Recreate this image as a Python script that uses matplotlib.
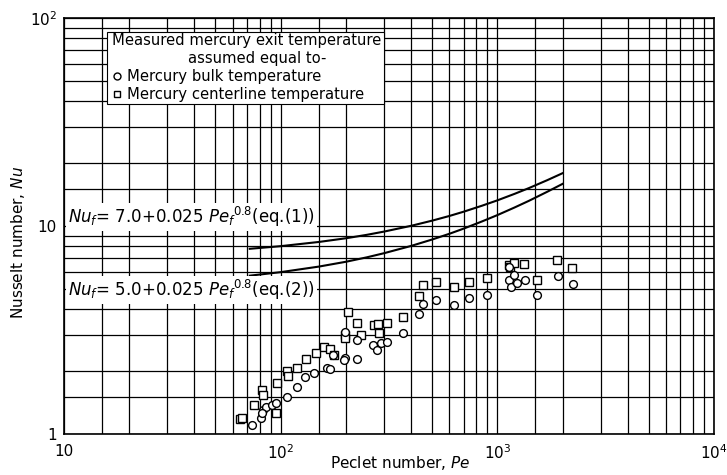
import matplotlib
matplotlib.use("Agg")
import matplotlib.pyplot as plt
from matplotlib.ticker import FixedLocator, NullFormatter
from matplotlib.patches import Rectangle
from matplotlib.lines import Line2D

plt.rcParams['font.family'] = ['DejaVu Sans']
plt.rcParams['mathtext.fontset'] = 'dejavusans'

# ---- data ----
pe_center = [65, 66, 75, 82, 83, 95, 96, 107, 108, 119, 131, 145, 159, 169, 176,
             204, 199, 199, 225, 234, 271, 281, 285, 310, 368, 433, 453, 520, 633,
             741, 894, 1131, 1150, 1200, 1324, 1521, 1888, 2221]
nu_center = [1.18, 1.19, 1.38, 1.63, 1.54, 1.26, 1.75, 2.01, 1.89, 2.07, 2.29, 2.46, 2.63,
             2.56, 2.40, 3.87, 2.99, 2.88, 3.43, 2.99, 3.34, 3.38, 3.07, 3.41, 3.66, 4.61,
             5.20, 5.40, 5.11, 5.40, 5.60, 6.49, 6.35, 6.62, 6.57, 5.50, 6.86, 6.26]

pe_bulk = [74, 81, 83, 86, 82, 91, 95, 107, 119, 130, 143, 163, 169, 174, 199, 199, 197,
           225, 225, 267, 277, 291, 310, 368, 433, 453, 520, 633, 741, 894, 1131, 1134,
           1200, 1153, 1228, 1345, 1521, 1914, 2244]
nu_bulk = [1.10, 1.19, 1.30, 1.35, 1.26, 1.38, 1.41, 1.51, 1.69, 1.87, 1.96, 2.07, 2.05,
           2.40, 3.10, 2.31, 2.27, 2.83, 2.29, 2.68, 2.53, 2.73, 2.78, 3.05, 3.76, 4.22,
           4.41, 4.17, 4.52, 4.66, 5.50, 6.37, 5.81, 5.11, 5.30, 5.50, 4.66, 5.75, 5.26]

pe_curve = [72, 100, 150, 200, 250, 300, 400, 500, 600, 700, 850, 1000, 1200, 1400, 1700, 2000]
nu_eq1 = [7.77, 8.00, 8.38, 8.73, 9.07, 9.40, 10.02, 10.61, 11.17, 11.72, 12.52, 13.28,
          14.27, 15.22, 16.61, 17.94]
nu_eq2 = [5.77, 6.00, 6.38, 6.73, 7.07, 7.40, 8.02, 8.61, 9.17, 9.72, 10.52, 11.28,
          12.27, 13.22, 14.61, 15.94]

x_major = [10, 100, 1000, 10000]
x_major_labels = ['10', r'$10^{2}$', r'$10^{3}$', r'$10^{4}$']
y_major = [1, 10, 100]
y_major_labels = ['1', '10', r'$10^{2}$']
minor_mult = [1.5, 2, 3, 4, 5, 6, 7, 8, 9]

W, H = 727, 475
fig = plt.figure(figsize=(W / 100, H / 100), dpi=100)
ax = fig.add_axes([64 / W, 41 / H, 650 / W, 416 / H])
ax.set_xscale('log')
ax.set_yscale('log')
ax.set_xlim(10, 10000)
ax.set_ylim(1, 100)

ax.xaxis.set_major_locator(FixedLocator(x_major))
ax.set_xticklabels(x_major_labels)
ax.yaxis.set_major_locator(FixedLocator(y_major))
ax.set_yticklabels(y_major_labels)
ax.xaxis.set_minor_locator(FixedLocator([m * 10 ** k for k in (1, 2, 3) for m in minor_mult]))
ax.yaxis.set_minor_locator(FixedLocator([m * 10 ** k for k in (0, 1) for m in minor_mult]))
ax.xaxis.set_minor_formatter(NullFormatter())
ax.yaxis.set_minor_formatter(NullFormatter())
ax.tick_params(which='both', length=0, labelsize=11)
ax.tick_params(axis='x', pad=7)
ax.tick_params(axis='y', pad=5)
ax.grid(which='both', color='black', linewidth=0.9)
ax.set_axisbelow(True)
for s in ax.spines.values():
    s.set_linewidth(1.2)

ax.plot(pe_curve, nu_eq1, color='black', lw=1.5, zorder=3)
ax.plot(pe_curve, nu_eq2, color='black', lw=1.5, zorder=3)

ax.plot(pe_center, nu_center, linestyle='none', marker='s', markersize=5.3,
        markerfacecolor='white', markeredgecolor='black', markeredgewidth=1.0, zorder=4)
ax.plot(pe_bulk, nu_bulk, linestyle='none', marker='o', markersize=5.6,
        markerfacecolor='white', markeredgecolor='black', markeredgewidth=1.0, zorder=5)

def fx(x):
    return x / W

def fy(y):
    return 1 - y / H

# equation labels
eq_bbox = dict(facecolor='white', edgecolor='none', pad=1.5)
fig.text(fx(68), fy(217), r'$Nu_f$= 7.0+0.025 $Pe_f$$^{0.8}$(eq.(1))', fontsize=12,
         ha='left', va='center', bbox=eq_bbox, zorder=6)
fig.text(fx(68), fy(290), r'$Nu_f$= 5.0+0.025 $Pe_f$$^{0.8}$(eq.(2))', fontsize=12,
         ha='left', va='center', bbox=eq_bbox, zorder=6)

# legend box
box_top, box_bot = 32, 104
rows = [41, 58, 76, 94]
box = Rectangle((fx(107), fy(box_bot)), fx(384) - fx(107), fy(box_top) - fy(box_bot),
                transform=fig.transFigure, facecolor='white', edgecolor='black',
                linewidth=0.8, zorder=6)
fig.add_artist(box)
fig.text(fx(112), fy(rows[0]), 'Measured mercury exit temperature', fontsize=10.6,
         ha='left', va='center', zorder=7)
fig.text(fx(188), fy(rows[1]), 'assumed equal to-', fontsize=10.6, ha='left', va='center', zorder=7)
fig.add_artist(Line2D([fx(117)], [fy(rows[2])], transform=fig.transFigure, marker='o',
                      markersize=5, markerfacecolor='white', markeredgecolor='black',
                      markeredgewidth=1.0, linestyle='none', zorder=7))
fig.text(fx(127), fy(rows[2]), 'Mercury bulk temperature', fontsize=10.6, ha='left',
         va='center', zorder=7)
fig.add_artist(Line2D([fx(117)], [fy(rows[3])], transform=fig.transFigure, marker='s',
                      markersize=5, markerfacecolor='white', markeredgecolor='black',
                      markeredgewidth=1.0, linestyle='none', zorder=7))
fig.text(fx(127), fy(rows[3]), 'Mercury centerline temperature', fontsize=10.6, ha='left',
         va='center', zorder=7)

fig.text(fx(18), fy(242), 'Nusselt number, $Nu$', rotation=90, fontsize=11,
         ha='center', va='center')
fig.text(fx(400), fy(463), 'Peclet number, $Pe$', fontsize=11, ha='center', va='center')

fig.savefig('out.png', dpi=100, facecolor='white')
